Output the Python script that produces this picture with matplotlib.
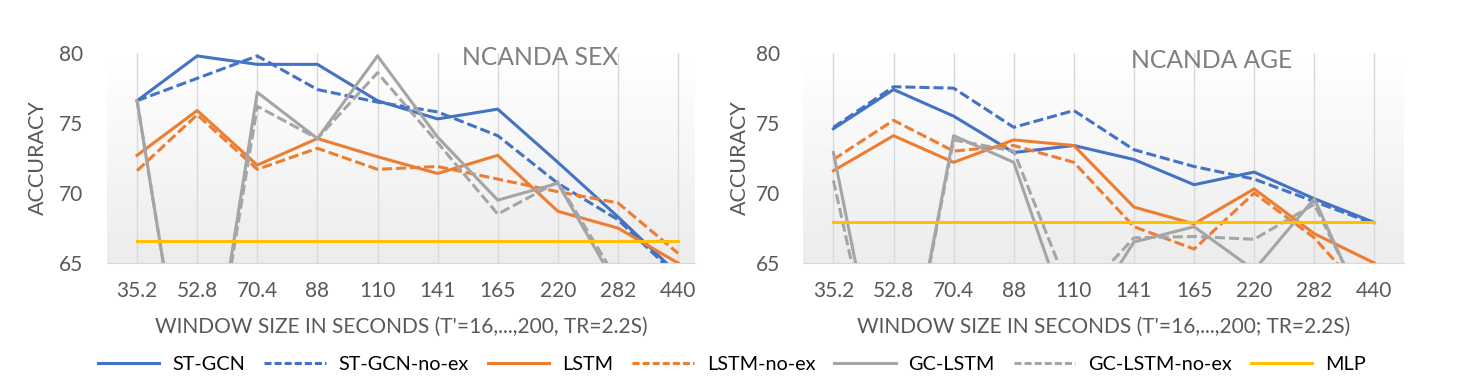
import numpy as np
import matplotlib.pyplot as plt
from matplotlib.lines import Line2D
from matplotlib.patches import Rectangle

plt.rcParams['font.family'] = ['Lato', 'DejaVu Sans']

windows = ['35.2', '52.8', '70.4', '88', '110', '141', '165', '220', '282', '440']

# NCANDA SEX
sex_stgcn      = [76.6, 79.8, 79.2, 79.2, 76.6, 75.3, 76.0, 72.2, 68.3, 64.2]
sex_stgcn_noex = [76.6, 78.2, 79.8, 77.4, 76.5, 75.8, 74.1, 70.7, 68.1, 64.0]
sex_lstm       = [72.7, 75.9, 72.0, 73.9, 72.6, 71.4, 72.7, 68.7, 67.5, 65.0]
sex_lstm_noex  = [71.6, 75.6, 71.7, 73.2, 71.7, 71.9, 71.0, 70.1, 69.3, 65.7]
sex_gclstm     = [76.6, 50.0, 77.2, 73.9, 79.8, 74.0, 69.5, 70.7, 63.2, 60.0]
sex_gclstm_noex = [76.6, 50.0, 76.2, 73.9, 78.6, 73.6, 68.5, 70.8, 63.7, 60.0]
sex_mlp        = [66.6] * 10

# NCANDA AGE
age_stgcn      = [74.6, 77.4, 75.5, 72.9, 73.4, 72.4, 70.6, 71.5, 69.6, 67.9]
age_stgcn_noex = [74.7, 77.6, 77.5, 74.7, 75.9, 73.1, 71.9, 71.0, 69.4, 67.8]
age_lstm       = [71.6, 74.1, 72.2, 73.8, 73.4, 69.0, 67.8, 70.3, 67.1, 65.0]
age_lstm_noex  = [72.4, 75.2, 73.0, 73.4, 72.2, 67.6, 66.0, 70.0, 66.8, 62.0]
age_gclstm     = [72.9, 51.5, 74.1, 72.2, 59.8, 66.5, 67.6, 64.5, 69.6, 60.1]
age_gclstm_noex = [70.9, 51.5, 73.8, 73.0, 62.2, 66.8, 66.9, 66.7, 69.2, 60.5]
age_mlp        = [67.9] * 10

names = ['ST-GCN', 'ST-GCN-no-ex', 'LSTM', 'LSTM-no-ex', 'GC-LSTM', 'GC-LSTM-no-ex', 'MLP']
colors = ['#4472C4', '#4472C4', '#ED7D31', '#ED7D31', '#A5A5A5', '#A5A5A5', '#FFC000']
dashed = [False, True, False, True, False, True, False]

fig = plt.figure(figsize=(14.66, 3.88), dpi=100)
ax1 = fig.add_axes([0.073, 0.322, 0.401, 0.541])
ax2 = fig.add_axes([0.548, 0.322, 0.410, 0.541])

def background(ax, n=60):
    # light grey at the bottom fading to white at the top
    for i in range(n):
        g = 0.925 + 0.075 * (i / (n - 1))
        ax.add_patch(Rectangle((0, i / n), 1, 1.0 / n + 0.002, transform=ax.transAxes,
                               facecolor=(g, g, g), edgecolor='none', zorder=0))

def draw(ax, series, title, xlabel, title_xy, xmax, ylab_x):
    x = np.arange(len(windows))
    background(ax)
    for xi in x:
        ax.axvline(xi, color='#d9d9d9', lw=1, zorder=1)
    for s, c, d in zip(series, colors, dashed):
        ls = (0, (3.3, 1.3)) if d else '-'
        ax.plot(x, s, color=c, lw=2.2, linestyle=ls, zorder=3)
    ax.set_xlim(-0.5, xmax)
    ax.set_ylim(65, 80)
    ax.set_yticks([65, 70, 75, 80])
    ax.set_xticks(x)
    ax.set_xticklabels(windows)
    for sp in ['top', 'right', 'left']:
        ax.spines[sp].set_visible(False)
    ax.spines['bottom'].set_color('#d9d9d9')
    ax.tick_params(axis='both', length=0)
    ax.tick_params(axis='y', labelsize=15, labelcolor='#595959', pad=17)
    ax.tick_params(axis='x', labelsize=15, labelcolor='#595959', pad=13)
    ax.set_xlabel(xlabel, fontsize=15, color='#595959', va='center')
    ax.xaxis.set_label_coords(0.5, -0.305)
    ax.set_ylabel('ACCURACY', fontsize=15.5, color='#595959', va='center')
    ax.yaxis.set_label_coords(ylab_x, 0.5)
    ax.text(title_xy[0], title_xy[1], title, transform=ax.transAxes, ha='center', va='center',
            fontsize=17.7, color='#7f7f7f', zorder=5)

draw(ax1, [sex_stgcn, sex_stgcn_noex, sex_lstm, sex_lstm_noex, sex_gclstm, sex_gclstm_noex, sex_mlp],
     'NCANDA SEX', "WINDOW SIZE IN SECONDS (T'=16,...,200, TR=2.2S)", (0.736, 0.98), 9.28, -0.117)
draw(ax2, [age_stgcn, age_stgcn_noex, age_lstm, age_lstm_noex, age_gclstm, age_gclstm_noex, age_mlp],
     'NCANDA AGE', "WINDOW SIZE IN SECONDS (T'=16,...,200; TR=2.2S)", (0.68, 0.967), 9.5, -0.105)

handles = [Line2D([], [], color=c, lw=2.2, linestyle=((0, (2.3, 1.0)) if d else '-'))
           for c, d in zip(colors, dashed)]
fig.legend(handles, names, loc='center', bbox_to_anchor=(0.4993, 0.06), ncol=7, frameon=False,
           fontsize=14.3, handlelength=3.1, columnspacing=0.95, handletextpad=0.65)

fig.savefig('out.png', dpi=100)
